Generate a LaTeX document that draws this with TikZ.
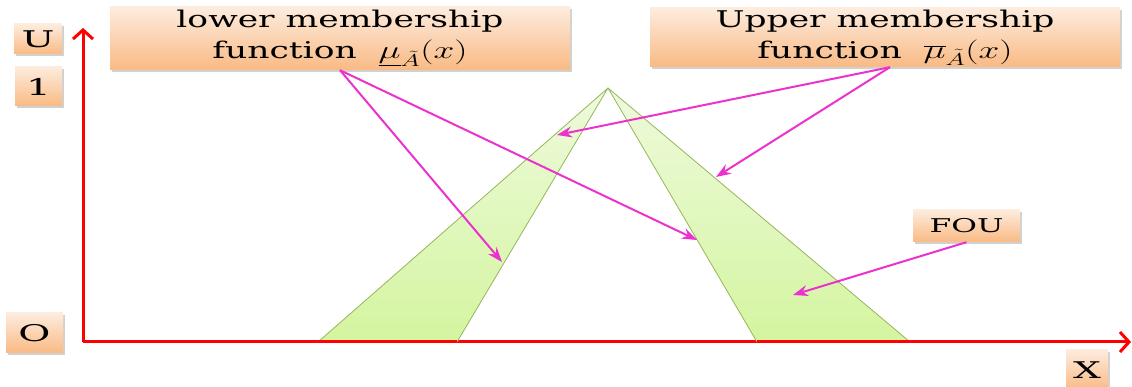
\documentclass[tikz,border=0pt]{standalone}
\usepackage{fontspec}
\setmainfont{DejaVu Serif}
\usetikzlibrary{arrows.meta,shadows}
\definecolor{axred}{RGB}{255,0,0}
\definecolor{pinkarrow}{RGB}{235,50,205}
\definecolor{boxtop}{RGB}{253,236,222}
\definecolor{boxbot}{RGB}{249,186,132}
\definecolor{greentop}{RGB}{238,250,220}
\definecolor{greenbot}{RGB}{212,245,160}
\definecolor{greenline}{RGB}{150,182,90}
\newcommand{\wide}[1]{\scalebox{1.5}[1]{#1}}
\newcommand{\wider}[1]{\scalebox{1.7}[1]{#1}}
\begin{document}
\begin{tikzpicture}[x=1pt,y=1pt,
  labelbox/.style={top color=boxtop,bottom color=boxbot,draw=none,inner sep=0pt,align=center,
     drop shadow={opacity=0.3,shadow xshift=1.5pt,shadow yshift=-2pt,fill=black!60}},
  bigtext/.style={font=\fontsize{23}{30}\selectfont},
  smalltext/.style={font=\fontsize{23}{26}\selectfont},
  axis/.style={draw=axred,line width=3pt,-{Straight Barb[length=9pt,width=20pt,line width=3pt]}},
  pinkarr/.style={draw=pinkarrow,line width=2pt,-{Stealth[length=15pt,width=11pt,inset=5pt]}},
  fou/.style={top color=greentop,bottom color=greenbot,draw=greenline,line width=0.8pt,line join=round}]
\useasboundingbox (0,0) rectangle (1132,387);

% axes
\coordinate (orig) at (83,45);
\coordinate (ytip) at (83,359);
\coordinate (xtip) at (1131,45);
\draw[axis] (orig) -- (ytip);
\draw[axis] (orig) -- (xtip);

% footprint of uncertainty
\coordinate (apex) at (608,299);
\coordinate (l1) at (318,45);
\coordinate (l2) at (457,45);
\coordinate (r1) at (757,45);
\coordinate (r2) at (910,45);
\path[fou] (apex) -- (l1) -- (l2) -- cycle;
\path[fou] (apex) -- (r1) -- (r2) -- cycle;
\draw[axred,line width=3pt] (l1) -- (l2) (r1) -- (r2);

% label boxes
\node[labelbox,bigtext,minimum width=460pt,minimum height=63pt] (lowbox) at (340,348.5)
  {\wide{lower membership}\\[1pt]\wide{function\ \ $\underline{\mu}_{\tilde A}(x)$}};
\node[labelbox,bigtext,minimum width=470pt,minimum height=59pt] (upbox) at (885,349.5)
  {\wide{Upper membership}\\[1pt]\wide{function\ \ $\overline{\mu}_{\tilde A}(x)$}};
\node[labelbox,font=\fontsize{19}{22}\selectfont,minimum width=107pt,minimum height=32pt] (foubox) at (966.5,161)
  {\scalebox{1.65}[1]{FOU}};

\node[labelbox,smalltext,minimum width=48pt,minimum height=30pt] (ubox) at (38,348) {\wider{U}};
\node[labelbox,smalltext,minimum width=47pt,minimum height=39pt] (onebox) at (38.5,300.5) {\wider{1}};
\node[labelbox,smalltext,minimum width=57pt,minimum height=40pt] (obox) at (34.5,54) {\wider{O}};
\node[labelbox,smalltext,minimum width=42pt,minimum height=40pt] (xbox) at (1087,17) {\wider{X}};

% arrow targets
\coordinate (t1) at (502,125);
\coordinate (t2) at (697,147);
\coordinate (t3) at (557,252);
\coordinate (t4) at (716,210);
\coordinate (t5) at (793,92);

\draw[pinkarr] (lowbox.south) -- (t1);
\draw[pinkarr] (lowbox.south) -- (t2);
\draw[pinkarr] ([xshift=5pt]upbox.south) -- (t3);
\draw[pinkarr] ([xshift=5pt]upbox.south) -- (t4);
\draw[pinkarr] (foubox.south) -- (t5);
\end{tikzpicture}
\end{document}
